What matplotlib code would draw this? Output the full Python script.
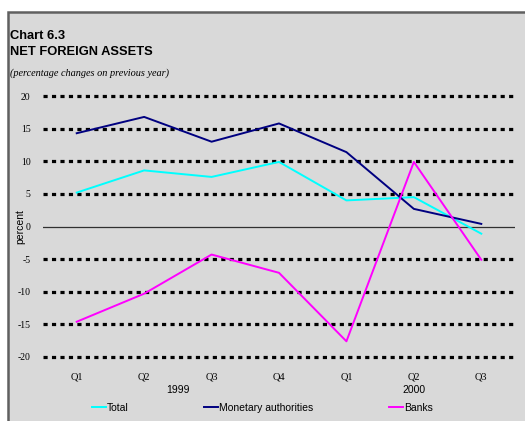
import matplotlib
matplotlib.use("Agg")
import matplotlib.pyplot as plt
from matplotlib.patches import Rectangle
from matplotlib.lines import Line2D
from matplotlib.transforms import blended_transform_factory

quarters = ["Q1", "Q2", "Q3", "Q4", "Q1", "Q2", "Q3"]
years = ["1999", "2000"]
total = [5.2, 8.6, 7.6, 9.9, 4.0, 4.5, -1.1]
monetary = [14.3, 16.8, 13.0, 15.8, 11.4, 2.7, 0.4]
banks = [-14.6, -10.3, -4.3, -7.1, -17.6, 9.9, -5.1]
yticks = [-20, -15, -10, -5, 0, 5, 10, 15, 20]

fig = plt.figure(figsize=(5.25, 4.21), dpi=100)
fig.patch.set_facecolor("white")

# grey panel with dark border, runs off the right and bottom edges
fig.add_artist(Rectangle((8 / 525, -0.05), 1.0, (421 - 12) / 421 + 0.05,
                         transform=fig.transFigure, facecolor="#d9d9d9",
                         edgecolor="#606060", linewidth=1.8, zorder=0))

fig.text(10 / 525, 1 - 36 / 421, "Chart 6.3", fontsize=9.3, fontweight="bold",
         family="Liberation Sans", va="center")
fig.text(10 / 525, 1 - 52 / 421, "NET FOREIGN ASSETS", fontsize=9.3, fontweight="bold",
         family="Liberation Sans", va="center")
fig.text(10 / 525, 1 - 73 / 421, "(percentage changes on previous year)", fontsize=7.4,
         style="italic", family="Liberation Serif", va="center")

ax = fig.add_axes([43 / 525, 1 - 370 / 421, (515 - 43) / 525, (370 - 83) / 421])
ax.set_facecolor("none")
x = list(range(len(quarters)))

for v in yticks:
    if v == 0:
        ax.axhline(v, color="#303030", linewidth=0.9, zorder=1)
    else:
        ax.axhline(v, color="black", linewidth=2.3, linestyle=(0, (1.3, 1.35)), zorder=1)

l1, = ax.plot(x, total, color="#00ffff", linewidth=1.4, zorder=3)
l2, = ax.plot(x, monetary, color="#000080", linewidth=1.4, zorder=3)
l3, = ax.plot(x, banks, color="#ff00ff", linewidth=1.4, zorder=3)

ax.set_xlim(-0.5, len(quarters) - 0.5)
ax.set_ylim(-22, 22)
ax.set_yticks(yticks)
ax.set_yticklabels([str(v) for v in yticks], family="Liberation Serif", fontsize=7)
ax.set_xticks(x)
ax.set_xticklabels(quarters, family="Liberation Serif", fontsize=7.5)
ax.tick_params(axis="both", length=0)
ax.tick_params(axis="y", pad=9)
ax.tick_params(axis="x", pad=1.5)
for s in ax.spines.values():
    s.set_visible(False)

ax.set_ylabel("percent", family="Liberation Sans", fontsize=7.5)
ax.yaxis.set_label_coords((25 - 43) / 472, 0.5)

tr = blended_transform_factory(ax.transData, fig.transFigure)
ax.text(1.5, 1 - 390 / 421, years[0], transform=tr, ha="center", va="center",
        family="Liberation Sans", fontsize=7.5)
ax.text(5, 1 - 390 / 421, years[1], transform=tr, ha="center", va="center",
        family="Liberation Sans", fontsize=7.5)

# legend entries are spaced unevenly in the original, so place each one
for line, name, xpos in [(l1, "Total", 92), (l2, "Monetary authorities", 204), (l3, "Banks", 389)]:
    h = Line2D([], [], color=line.get_color(), linewidth=1.4)
    lg = fig.legend([h], [name], loc="center left", bbox_to_anchor=(xpos / 525, 1 - 408 / 421),
                    frameon=False, prop={"family": "Liberation Sans", "size": 7.5},
                    handlelength=1.35, handletextpad=0.1, borderpad=0, borderaxespad=0)

fig.savefig("out.png", dpi=100)
